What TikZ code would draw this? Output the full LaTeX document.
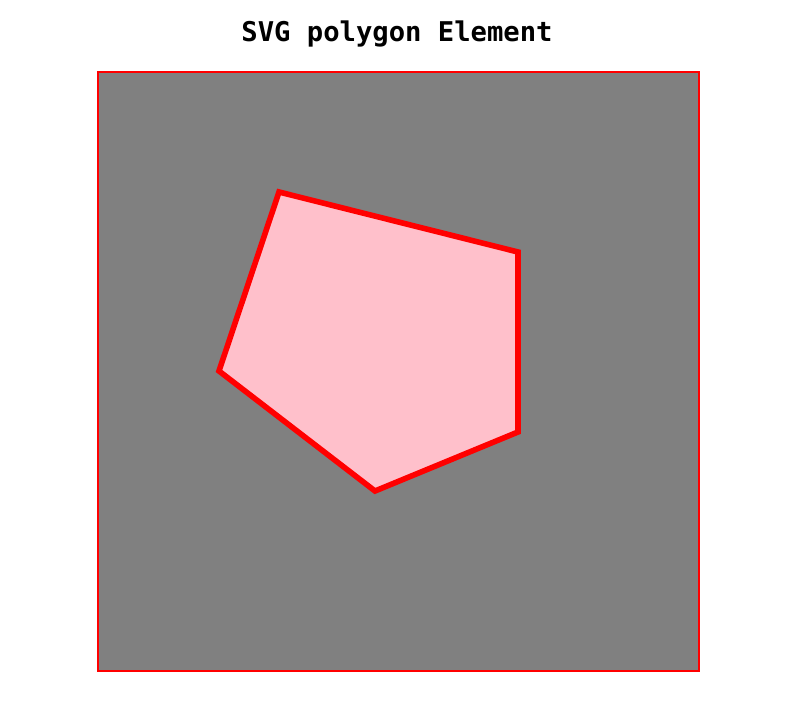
\documentclass[tikz,border=0pt]{standalone}
\usepackage{fontspec}
\usepackage{tikz}
\usepackage{xcolor}
\newfontfamily\svgmono{DejaVu Sans Mono}
\definecolor{svgred}{RGB}{255,0,0}
\definecolor{svggray}{RGB}{128,128,128}
\definecolor{svgpink}{RGB}{255,192,203}
\tikzset{
  svgtitle/.style={font=\svgmono\bfseries\fontsize{27.2}{32}\selectfont, anchor=base, inner sep=0pt},
  svgcanvas/.style={draw=svgred, line width=2pt, fill=svggray},
  svgpoly/.style={draw=svgred, line width=5.6pt, fill=svgpink, line join=miter}
}
\begin{document}
\begin{tikzpicture}[x=1pt, y=-1pt]
  \useasboundingbox (0,0) rectangle (802,714);
  \node[svgtitle] (title) at (397,42) {SVG polygon Element};
  \draw[svgcanvas] (98,72) rectangle (699,671);
  % polygon points
  \coordinate (p1) at (279,192);
  \coordinate (p2) at (518,252);
  \coordinate (p3) at (518,432);
  \coordinate (p4) at (375,491);
  \coordinate (p5) at (219,371);
  \draw[svgpoly] (p1) -- (p2) -- (p3) -- (p4) -- (p5) -- cycle;
\end{tikzpicture}
\end{document}
